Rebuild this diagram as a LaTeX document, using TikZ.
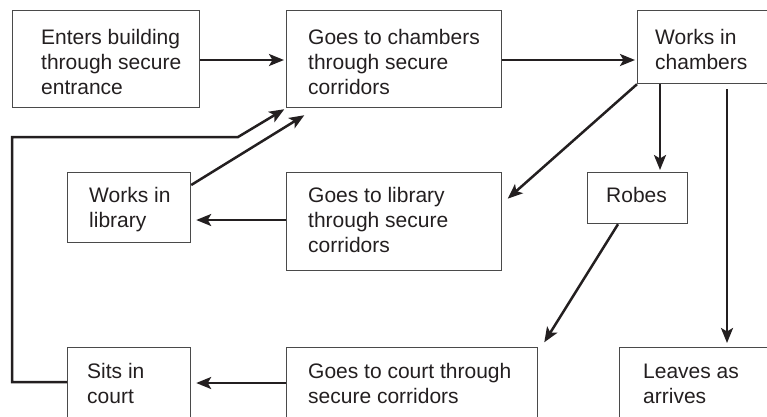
\documentclass[tikz,border=0pt]{standalone}
\usepackage{fontspec}
\setmainfont{Liberation Sans}
\usetikzlibrary{arrows.meta}
\definecolor{ink}{HTML}{231F20}
\definecolor{rim}{HTML}{4A4A4A}

\begin{document}
\begin{tikzpicture}[x=1pt,y=-1pt,
  stage/.style={draw=rim,line width=1.2pt,anchor=north west,inner sep=0pt},
  words/.style={anchor=base west,align=left,inner sep=0pt,text=ink,
    font=\fontsize{21}{25}\selectfont},
  flow/.style={draw=ink,line width=2.5pt,shorten >=2pt,
    -{Stealth[length=15pt,width=12pt,inset=3.5pt]}}]
\clip (0,0) rectangle (767,416);
% boxes
\node[stage,minimum width=187pt,minimum height=97pt] (enter) at (12,10) {};
\node[stage,minimum width=215pt,minimum height=97pt] (gochamb) at (286,10) {};
\node[stage,minimum width=150pt,minimum height=73pt] (workch) at (637,10) {};
\node[stage,minimum width=123pt,minimum height=70pt] (worklib) at (67,172) {};
\node[stage,minimum width=215pt,minimum height=98pt] (golib) at (286,172) {};
\node[stage,minimum width=100pt,minimum height=51pt] (robes) at (587,172) {};
\node[stage,minimum width=123pt,minimum height=80pt] (sits) at (67,347) {};
\node[stage,minimum width=251pt,minimum height=80pt] (gocourt) at (286,347) {};
\node[stage,minimum width=170pt,minimum height=80pt] (leaves) at (619,347) {};
% texts (placed at the baseline of the last line)
\node[words] (enter-t) at (41,94) {Enters building\\through secure\\entrance};
\node[words] (gochamb-t) at (308,94) {Goes to chambers\\through secure\\corridors};
\node[words] (workch-t) at (655,69) {Works in\\chambers};
\node[words] (worklib-t) at (89,227) {Works in\\library};
\node[words] (golib-t) at (308,252) {Goes to library\\through secure\\corridors};
\node[words] (robes-t) at (606,202) {Robes};
\node[words] (sits-t) at (87,403) {Sits in\\court};
\node[words] (gocourt-t) at (308,403) {Goes to court through\\secure corridors};
\node[words] (leaves-t) at (643,403) {Leaves as\\arrives};
% arrows
\draw[flow] ([yshift=-50pt]enter.north east) -- ([yshift=-50pt]gochamb.north west);
\draw[flow] ([yshift=-50pt]gochamb.north east) -- ([yshift=-50pt]workch.north west);
\draw[flow] (workch.south west) -- ([xshift=4pt,yshift=-28pt]golib.north east);
\draw[flow] ([xshift=23pt]workch.south west) -- ([xshift=23pt]workch.south west |- robes.north);
\draw[flow] ([xshift=90pt,yshift=-5pt]workch.south west) -- ([xshift=90pt,yshift=2pt]workch.south west |- leaves.north);
\draw[flow] ([xshift=31pt]robes.south west) -- ([xshift=5pt,yshift=3pt]gocourt.north east);
\draw[flow] ([yshift=-36pt]gocourt.north west) -- ([yshift=-36pt,xshift=3pt]sits.north east);
\draw[flow] ([yshift=-48pt]golib.north west) -- ([yshift=-48pt,xshift=3pt]worklib.north east);
\draw[flow] ([yshift=-13pt]worklib.north east) -- ([xshift=20pt,yshift=-6pt]gochamb.south west);
% way back from court
\coordinate (loop) at (12,137);
\coordinate (kink) at (238,137);
\draw[flow] ([yshift=-35pt]sits.north west) -| (loop) -- (kink) -- (gochamb.south west);
\end{tikzpicture}
\end{document}
